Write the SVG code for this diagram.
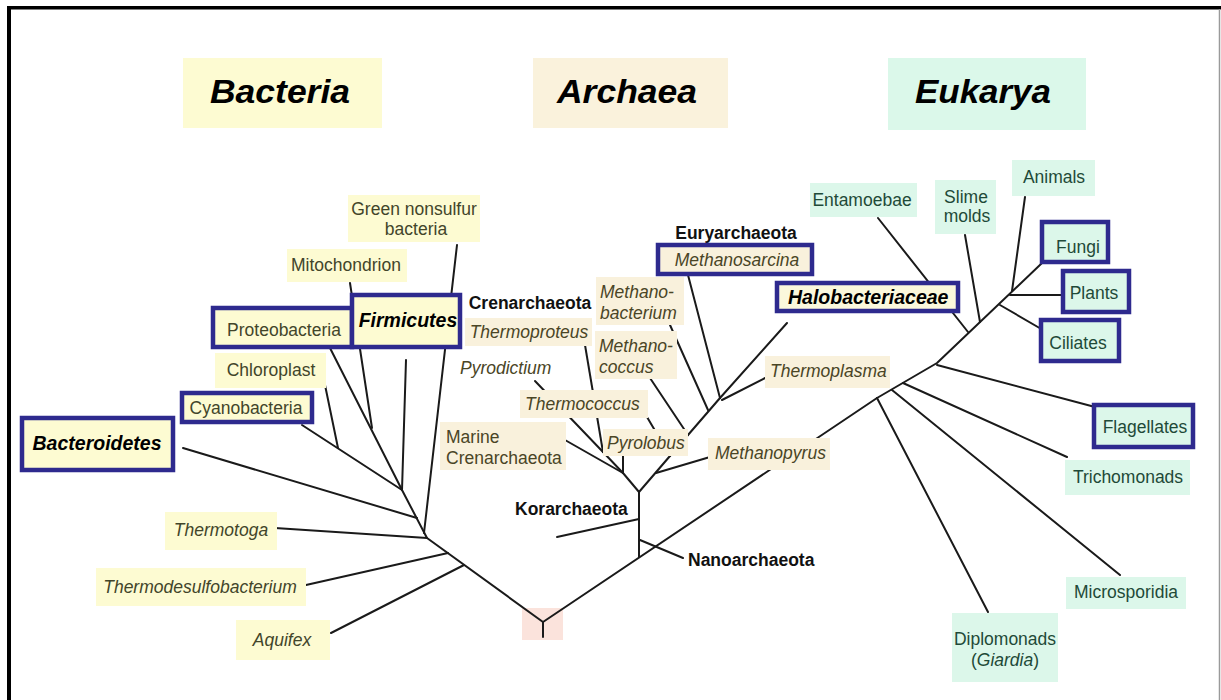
<svg xmlns="http://www.w3.org/2000/svg" width="1221" height="700" viewBox="0 0 1221 700">
<style>
.l{font-family:"Liberation Sans",Arial,sans-serif;font-size:17.5px}
.i{font-style:italic}
.b{font-weight:bold;fill:#111}
.bi{font-weight:bold;font-style:italic;fill:#000;font-size:19.5px}
.t{font-family:"Liberation Sans",Arial,sans-serif;font-weight:bold;font-style:italic;font-size:33px;fill:#000}
.by{fill:#fdfbd2}
.ay{fill:#f9f1dc}
.ey{fill:#dcf7ea}
.bt{fill:#42452a}
.at{fill:#4a4526}
.et{fill:#1f4a38}
.bx{stroke:#2e2a8e;stroke-width:4.5}
#connectors{fill:none;stroke:#1a1a1a;stroke-width:2;stroke-linecap:round;stroke-linejoin:round}
</style>
<rect width="1221" height="700" fill="#fff"/>
<rect x="7" y="6" width="1214" height="3.5" fill="#000"/>
<rect x="7" y="6" width="4" height="694" fill="#000"/>
<line x1="1219.5" y1="9" x2="1219.5" y2="700" stroke="#9a9a9a" stroke-width="1.5"/>

<g id="titles">
<g id="title-bacteria"><rect x="183" y="58" width="199" height="70" class="by"/><text x="280" y="103" class="t" text-anchor="middle" textLength="140" lengthAdjust="spacingAndGlyphs">Bacteria</text></g>
<g id="title-archaea"><rect x="533" y="58" width="195" height="70" fill="#faf2dc"/><text x="627" y="103" class="t" text-anchor="middle" textLength="140" lengthAdjust="spacingAndGlyphs">Archaea</text></g>
<g id="title-eukarya"><rect x="888" y="58" width="198" height="72" fill="#dbf8ea"/><text x="983" y="103" class="t" text-anchor="middle" textLength="136" lengthAdjust="spacingAndGlyphs">Eukarya</text></g>
</g>

<rect id="root" x="522" y="608" width="41" height="32" fill="#fbe3dc"/>

<g id="connectors">
<!-- bacteria -->
<polyline points="543,637 543,622 427,538 402,490"/>
<line x1="275" y1="528" x2="427" y2="538"/>
<line x1="306" y1="585" x2="448" y2="553"/>
<line x1="331" y1="633" x2="464" y2="565"/>
<line x1="183" y1="448" x2="417" y2="518"/>
<line x1="457" y1="245" x2="424" y2="533"/>
<line x1="406" y1="360" x2="402" y2="490"/>
<line x1="330" y1="348" x2="402" y2="490"/>
<line x1="350" y1="283" x2="372" y2="428"/>
<line x1="302" y1="425" x2="402" y2="490"/>
<line x1="325" y1="385" x2="338" y2="448"/>
<!-- archaea -->
<polyline points="543,622 877,398 937,363 1042,263 1047,257"/>
<line x1="639" y1="557" x2="639" y2="492"/>
<line x1="639" y1="519" x2="557" y2="537"/>
<line x1="640" y1="540" x2="683" y2="558"/>
<line x1="639" y1="492" x2="623" y2="473"/>
<line x1="565" y1="440" x2="623" y2="473"/>
<line x1="623" y1="455" x2="623" y2="473"/>
<line x1="603" y1="452" x2="623" y2="473"/>
<line x1="535" y1="381" x2="603" y2="452"/>
<line x1="585" y1="345" x2="603" y2="452"/>
<polyline points="639,492 688,435 720,398"/>
<line x1="710" y1="457" x2="656" y2="473"/>
<line x1="647" y1="417" x2="670" y2="456"/>
<line x1="650" y1="378" x2="688" y2="435"/>
<line x1="670" y1="325" x2="708" y2="410"/>
<line x1="688" y1="275" x2="720" y2="398"/>
<line x1="787" y1="323" x2="720" y2="398"/>
<line x1="767" y1="377" x2="722" y2="400"/>
<!-- eukarya -->
<line x1="937" y1="365" x2="1095" y2="407"/>
<line x1="903" y1="383" x2="1067" y2="457"/>
<line x1="892" y1="390" x2="1120" y2="575"/>
<line x1="877" y1="398" x2="988" y2="612"/>
<line x1="878" y1="218" x2="968" y2="332"/>
<line x1="965" y1="235" x2="980" y2="322"/>
<line x1="1025" y1="197" x2="1012" y2="291"/>
<line x1="1010" y1="295" x2="1063" y2="295"/>
<line x1="1000" y1="305" x2="1043" y2="330"/>
</g>

<!-- Bacteria nodes -->
<g id="green-nonsulfur"><rect x="348" y="195" width="132" height="47" class="by"/><text class="l bt" text-anchor="middle"><tspan x="414" y="215">Green nonsulfur</tspan><tspan x="416" y="235">bacteria</tspan></text></g>
<g id="mitochondrion"><rect x="287" y="249" width="120" height="33" class="by"/><text class="l bt" x="346" y="271" text-anchor="middle">Mitochondrion</text></g>
<g id="proteobacteria"><rect x="213" y="308" width="139" height="39" class="by bx"/><text class="l bt" x="284" y="336" text-anchor="middle">Proteobacteria</text></g>
<g id="firmicutes"><rect x="352" y="295" width="108" height="52" class="by bx"/><text class="l bi" x="408" y="327" text-anchor="middle">Firmicutes</text></g>
<g id="chloroplast"><rect x="215" y="353" width="111" height="35" class="by"/><text class="l bt" x="271" y="376" text-anchor="middle">Chloroplast</text></g>
<g id="cyanobacteria"><rect x="182" y="393" width="130" height="29" class="by bx"/><text class="l bt" x="246" y="414" text-anchor="middle">Cyanobacteria</text></g>
<g id="bacteroidetes"><rect x="22" y="418" width="151" height="52" class="by bx"/><text class="l bi" x="97" y="450" text-anchor="middle">Bacteroidetes</text></g>
<g id="thermotoga"><rect x="165" y="512" width="112" height="38" class="by"/><text class="l i bt" x="221" y="536" text-anchor="middle">Thermotoga</text></g>
<g id="thermodesulfobacterium"><rect x="96" y="568" width="210" height="38" class="by"/><text class="l i bt" x="200" y="593" text-anchor="middle">Thermodesulfobacterium</text></g>
<g id="aquifex"><rect x="236" y="620" width="94" height="40" class="by"/><text class="l i bt" x="282" y="646" text-anchor="middle">Aquifex</text></g>

<!-- Archaea nodes -->
<g id="euryarchaeota"><text class="l b" x="736" y="239" text-anchor="middle">Euryarchaeota</text></g>
<g id="methanosarcina"><rect x="658" y="245" width="154" height="29" class="ay bx"/><text class="l i at" x="737" y="266" text-anchor="middle">Methanosarcina</text></g>
<g id="crenarchaeota"><text class="l b" x="530" y="309" text-anchor="middle">Crenarchaeota</text></g>
<g id="thermoproteus"><rect x="465" y="318" width="127" height="28" class="ay"/><text class="l i at" x="529" y="338" text-anchor="middle">Thermoproteus</text></g>
<g id="methanobacterium"><rect x="596" y="277" width="88" height="48" class="ay"/><text class="l i at"><tspan x="600" y="298">Methano-</tspan><tspan x="600" y="319">bacterium</tspan></text></g>
<g id="methanococcus"><rect x="595" y="331" width="82" height="48" class="ay"/><text class="l i at"><tspan x="599" y="352">Methano-</tspan><tspan x="599" y="373">coccus</tspan></text></g>
<g id="pyrodictium"><text class="l i at" x="460" y="374">Pyrodictium</text></g>
<g id="thermococcus"><rect x="520" y="390" width="128" height="28" class="ay"/><text class="l i at" x="525" y="410">Thermococcus</text></g>
<g id="marine-crenarchaeota"><rect x="440" y="422" width="126" height="48" class="ay"/><text class="l at"><tspan x="446" y="443">Marine</tspan><tspan x="446" y="464">Crenarchaeota</tspan></text></g>
<g id="pyrolobus"><rect x="603" y="429" width="85" height="27" class="ay"/><text class="l i at" x="607" y="449">Pyrolobus</text></g>
<g id="methanopyrus"><rect x="708" y="438" width="122" height="32" class="ay"/><text class="l i at" x="715" y="459">Methanopyrus</text></g>
<g id="thermoplasma"><rect x="765" y="356" width="125" height="32" class="ay"/><text class="l i at" x="770" y="377">Thermoplasma</text></g>
<g id="halobacteriaceae"><rect x="777" y="283" width="181" height="28" fill="#fbf8dc" class="bx"/><text class="l bi" x="788" y="304">Halobacteriaceae</text></g>
<g id="korarchaeota"><text class="l b" x="515" y="515">Korarchaeota</text></g>
<g id="nanoarchaeota"><text class="l b" x="688" y="566">Nanoarchaeota</text></g>

<!-- Eukarya nodes -->
<g id="entamoebae"><rect x="810" y="183" width="107" height="34" class="ey"/><text class="l et" x="862" y="206" text-anchor="middle">Entamoebae</text></g>
<g id="slime-molds"><rect x="935" y="180" width="61" height="54" class="ey"/><text class="l et" text-anchor="middle"><tspan x="966" y="203">Slime</tspan><tspan x="967" y="222">molds</tspan></text></g>
<g id="animals"><rect x="1012" y="160" width="83" height="36" class="ey"/><text class="l et" x="1054" y="183" text-anchor="middle">Animals</text></g>
<g id="fungi"><rect x="1042" y="222" width="66" height="40" class="ey bx"/><text class="l et" x="1078" y="253" text-anchor="middle">Fungi</text></g>
<g id="plants"><rect x="1063" y="271" width="66" height="41" class="ey bx"/><text class="l et" x="1094" y="299" text-anchor="middle">Plants</text></g>
<g id="ciliates"><rect x="1041" y="320" width="78" height="41" class="ey bx"/><text class="l et" x="1078" y="349" text-anchor="middle">Ciliates</text></g>
<g id="flagellates"><rect x="1094" y="405" width="99" height="42" class="ey bx"/><text class="l et" x="1145" y="433" text-anchor="middle">Flagellates</text></g>
<g id="trichomonads"><rect x="1065" y="460" width="125" height="35" class="ey"/><text class="l et" x="1128" y="483" text-anchor="middle">Trichomonads</text></g>
<g id="microsporidia"><rect x="1066" y="577" width="120" height="32" class="ey"/><text class="l et" x="1126" y="598" text-anchor="middle">Microsporidia</text></g>
<g id="diplomonads"><rect x="952" y="613" width="106" height="69" class="ey"/><text class="l et" text-anchor="middle"><tspan x="1005" y="645">Diplomonads</tspan><tspan x="1005" y="666">(<tspan font-style="italic">Giardia</tspan>)</tspan></text></g>
</svg>
